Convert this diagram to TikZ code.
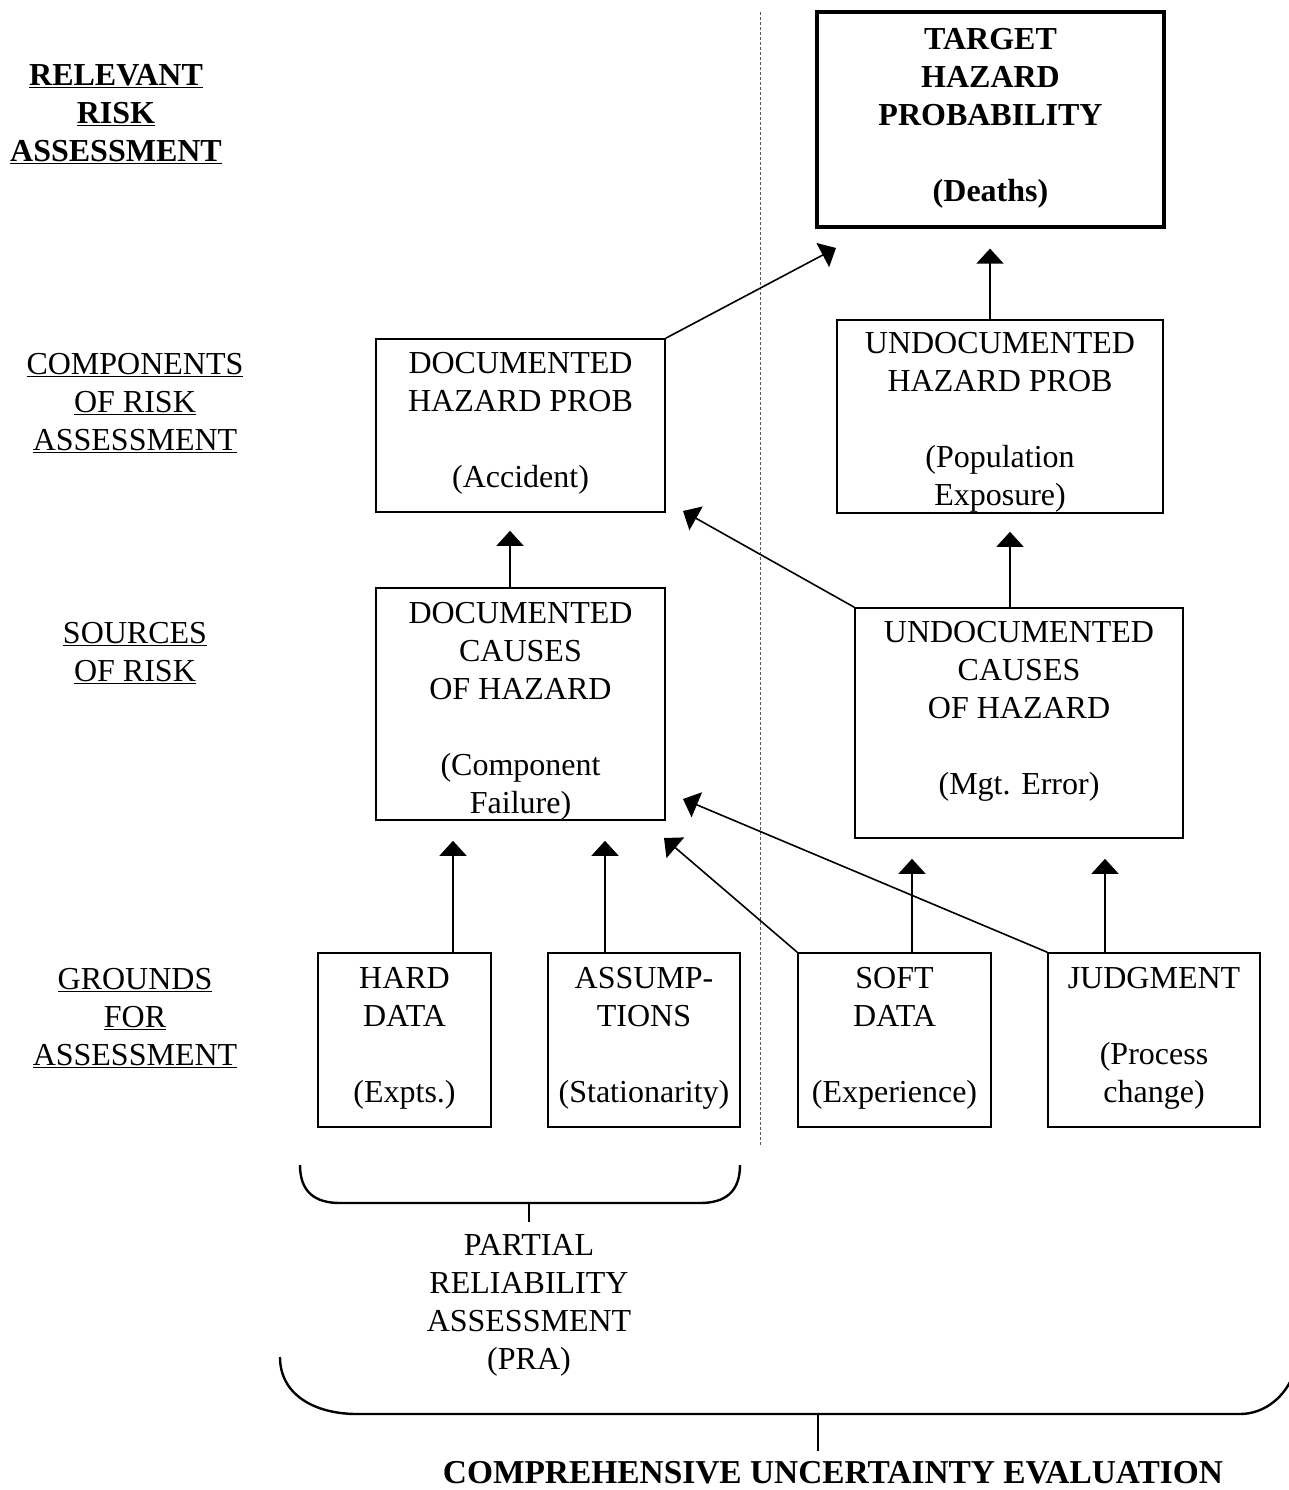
\documentclass[tikz,border=0pt]{standalone}
\usepackage{fontspec}
\setmainfont{Liberation Serif}
\usetikzlibrary{arrows.meta}
\begin{document}
\begin{tikzpicture}[x=1pt,y=-1pt,
  box/.style={draw, line width=1.6pt, inner sep=0pt},
  tbox/.style={draw, line width=3.2pt, inner sep=0pt},
  txt/.style={align=center, inner sep=0pt, font=\fontsize{32}{38}\selectfont},
  btxt/.style={align=center, inner sep=0pt, font=\fontsize{32}{38}\selectfont\bfseries},
  arr/.style={line width=1.6pt, -{Triangle[length=15pt,width=27pt]}},
  brace/.style={line width=2.4pt},
  divider/.style={gray!70!black, line width=1pt, dash pattern=on 3pt off 2pt}]
\useasboundingbox (0,0) rectangle (1288,1490);

% divider
\draw[divider] (760,12) coordinate (d1) -- (760,1145) coordinate (d2);

% left labels
\node[btxt] (l1) at (116,114) {\underline{RELEVANT}\\\underline{RISK}\\\underline{ASSESSMENT}};
\node[txt] (l2) at (135,403) {\underline{COMPONENTS}\\\underline{OF RISK}\\\underline{ASSESSMENT}};
\node[txt] (l3) at (135,653) {\underline{SOURCES}\\\underline{OF RISK}};
\node[txt] (l4) at (135,1018) {\underline{GROUNDS}\\\underline{FOR}\\\underline{ASSESSMENT}};

% boxes
\node[tbox, minimum width=347, minimum height=215] (target) at (990.5,119.5) {};
\node[btxt] (targett) at (990.5,118) {TARGET\\HAZARD\\PROBABILITY\\[38pt](Deaths)};

\node[box, minimum width=289, minimum height=173] (dhp) at (520.5,425.5) {};
\node[txt] (dhpt) at (520.5,423) {DOCUMENTED\\HAZARD PROB\\[38pt](Accident)};

\node[box, minimum width=326, minimum height=193] (uhp) at (1000,416.5) {};
\node[txt] (uhpt) at (1000,422.5) {UNDOCUMENTED\\HAZARD PROB\\[38pt](Population\\Exposure)};

\node[box, minimum width=289, minimum height=232] (dc) at (520.5,704) {};
\node[txt] (dct) at (520.5,711) {DOCUMENTED\\CAUSES\\OF HAZARD\\[38pt](Component\\Failure)};

\node[box, minimum width=328, minimum height=230] (uc) at (1019,723) {};
\node[txt] (uct) at (1019,711.5) {UNDOCUMENTED\\CAUSES\\OF HAZARD\\[38pt](Mgt. Error)};

\node[box, minimum width=173, minimum height=174] (hd) at (404.5,1040) {};
\node[txt] (hdt) at (404.5,1038) {HARD\\DATA\\[38pt](Expts.)};

\node[box, minimum width=192, minimum height=174] (as) at (644,1040) {};
\node[txt] (ast) at (644,1038) {ASSUMP-\\TIONS\\[38pt](Stationarity)};

\node[box, minimum width=193, minimum height=174] (sd) at (894.5,1040) {};
\node[txt] (sdt) at (894.5,1038) {SOFT\\DATA\\[38pt](Experience)};

\node[box, minimum width=212, minimum height=174] (jd) at (1154,1040) {};
\node[txt] (jdt) at (1154,1038) {JUDGMENT\\[38pt](Process\\change)};

% arrow tips
\coordinate (t1) at (836,248);
\coordinate (t2) at (683,511);
\coordinate (t3) at (683,799);
\coordinate (t4) at (664,838);

% arrows
\draw[arr] (dhp.north east) -- (t1);
\draw[arr] (uhp.north -| 990,0) -- ([yshift=-20]target.south -| 990,0);
\draw[arr] (dc.north -| 510,0) -- ([yshift=-18]dhp.south -| 510,0);
\draw[arr] (uc.north -| 1010,0) -- ([yshift=-18]uhp.south -| 1010,0);
\draw[arr] (uc.north west) -- (t2);
\draw[arr] (hd.north -| 453,0) -- ([yshift=-20]dc.south -| 453,0);
\draw[arr] (as.north -| 605,0) -- ([yshift=-20]dc.south -| 605,0);
\draw[arr] (sd.north west) -- (t4);
\draw[arr] (sd.north -| 912,0) -- ([yshift=-20]uc.south -| 912,0);
\draw[arr] (jd.north west) -- (t3);
\draw[arr] (jd.north -| 1105,0) -- ([yshift=-20]uc.south -| 1105,0);

% small brace
\draw[brace] (300,1165) coordinate (b1) .. controls (300,1192) and (315,1203) .. (340,1203)
  -- (700,1203) .. controls (725,1203) and (740,1192) .. (740,1165) coordinate (b2);
\draw[brace] (529,1203) coordinate (b3) -- (529,1222) coordinate (b4);
\node[txt] (pra) at (529,1305) {PARTIAL\\RELIABILITY\\ASSESSMENT\\(PRA)};

% big brace
\draw[brace] (280,1357) coordinate (c1) .. controls (280,1395) and (315,1414) .. (357,1414)
  -- (1240,1414) .. controls (1262,1414) and (1282,1400) .. (1292,1378) coordinate (c2);
\draw[brace] (818,1414) coordinate (c3) -- (818,1451) coordinate (c4);
\node[align=center, inner sep=0pt, font=\fontsize{33.4}{38}\selectfont\bfseries] (cue) at (833,1473) {COMPREHENSIVE UNCERTAINTY EVALUATION};
\end{tikzpicture}
\end{document}
